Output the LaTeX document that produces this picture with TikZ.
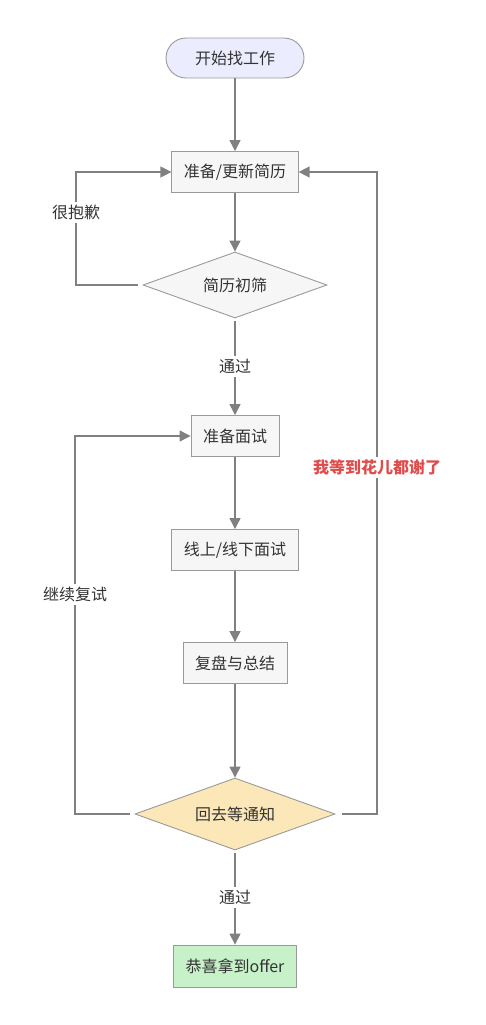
\documentclass[tikz,border=0pt]{standalone}
\usepackage{fontspec}
\setmainfont{Noto Sans CJK SC}
\usepackage{xcolor}
\usepackage{tikz}
\usetikzlibrary{
  arrows.meta,
  positioning,
  shapes.geometric
}
\definecolor{startfill}{HTML}{ECECFF}
\definecolor{stepfill}{HTML}{F6F6F6}
\definecolor{waitfill}{HTML}{FBE7B7}
\definecolor{offerfill}{HTML}{C7F1C9}
\definecolor{edgecolor}{HTML}{808080}
\definecolor{bordercolor}{HTML}{9A9A9A}
\definecolor{sorrycolor}{HTML}{E04B4B}
\newcommand{\txt}{\fontsize{16}{18}\selectfont}

\begin{document}
\begin{tikzpicture}[
  x=1pt, y=-1pt,
  box/.style={draw=bordercolor, line width=0.9pt, fill=stepfill, minimum height=41pt,
    inner xsep=12pt, font=\txt, text=black!80},
  startbox/.style={box, fill=startfill, rounded corners=20pt, minimum width=138pt, minimum height=40pt},
  check/.style={box, shape=diamond, aspect=2.8, inner sep=0pt},
  flow/.style={draw=edgecolor, line width=1.3pt, -{Triangle[width=11pt,length=11pt]}},
  lbl/.style={fill=white, font=\txt, text=black!80, inner sep=3pt},
]
  \useasboundingbox (0,0) rectangle (485,1025);

  % Steps
  \node[startbox] (begin) at (235,58) {开始找工作};
  \node[box] (resume) at (235,172) {准备/更新简历};
  \node[check, minimum width=184pt, minimum height=66pt] (screen) at (235,285) {简历初筛};
  \node[box] (prep) at (235,436) {准备面试};
  \node[box] (interview) at (235,550) {线上/线下面试};
  \node[box] (review) at (235,663) {复盘与总结};
  \node[check, fill=waitfill, minimum width=200pt, minimum height=72pt] (wait) at (235,814) {回去等通知};
  \node[box, fill=offerfill, minimum height=42pt] (offer) at (235,966) {恭喜拿到offer};

  % Main flow
  \draw[flow] (begin) -- (resume);
  \draw[flow] (resume) -- (screen);
  \draw[flow, shorten <=3pt] (screen) -- node[lbl] {通过} (prep);
  \draw[flow] (prep) -- (interview);
  \draw[flow] (interview) -- (review);
  \draw[flow] (review) -- (wait);
  \draw[flow, shorten <=3pt] (wait) -- node[lbl] {通过} (offer);

  % Loops back
  \coordinate (sorryx) at (76,0);
  \coordinate (againx) at (75,0);
  \coordinate (waitx) at (377,0);
  \draw[flow, shorten <=5pt] (screen.west) -- (screen.west -| sorryx)
    |- node[lbl, pos=0.32] {很抱歉} (resume.west);
  \draw[flow, shorten <=5pt] (wait.west) -- (wait.west -| againx)
    |- node[lbl, pos=0.29] {继续复试} (prep.west);
  \draw[flow, shorten <=7pt] (wait.east) -- (wait.east -| waitx)
    |- node[lbl, pos=0.27, text=sorrycolor, font=\txt\bfseries] {我等到花儿都谢了} (resume.east);
\end{tikzpicture}
\end{document}
